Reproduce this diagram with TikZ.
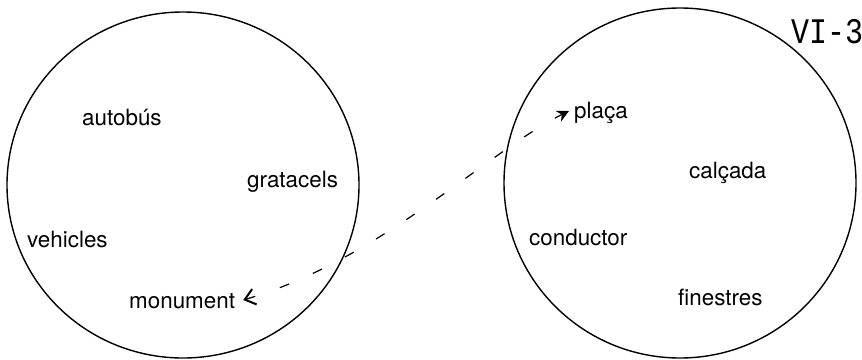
\documentclass[tikz,border=0pt]{standalone}
\usepackage{fontspec}
\setmainfont{TeX Gyre Heros}
\setmonofont{Liberation Mono}
\usetikzlibrary{arrows.meta}
\begin{document}
\begin{tikzpicture}[x=1pt,y=-1pt,
  ring/.style={draw=black,line width=1.4pt},
  word/.style={inner sep=0pt,anchor=base west,font=\fontsize{22.4}{26}\selectfont},
  link/.style={line width=1.2pt,dash pattern=on 10pt off 26pt,
    {Straight Barb[length=10pt,width=16pt,line width=2pt]}-{Stealth[length=12pt,width=12pt,inset=4pt]}}]
\useasboundingbox (0,0) rectangle (862,359);
\draw[ring] (183,185) ellipse [x radius=176,y radius=173];
\draw[ring] (680,183) ellipse [x radius=176,y radius=175];
\node[word] (aut) at (82,125) {autobús};
\node[word] (gra) at (247,187) {gratacels};
\node[word] (veh) at (27,247) {vehicles};
\node[word] (mon) at (129,308) {monument};
\node[word] (pla) at (574,118) {plaça};
\node[word] (cal) at (689,178) {calçada};
\node[word] (con) at (529,245) {conductor};
\node[word] (fin) at (678,305) {finestres};
\node[inner sep=0pt,font=\ttfamily\fontsize{30}{34}\selectfont,yscale=1.2] (tag) at (827,32) {VI-3};
\draw[link] ([shift={(8,-8)}]mon.base east) .. controls (380,260) and (490,150) .. ([shift={(-5,-7)}]pla.base west);
\end{tikzpicture}
\end{document}
